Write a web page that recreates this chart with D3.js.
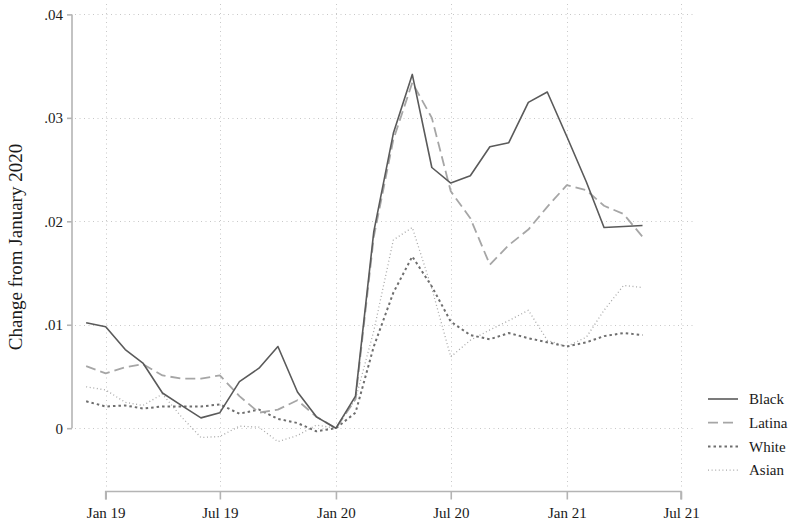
<!DOCTYPE html>
<html>
<head>
<meta charset="utf-8">
<script src="https://cdn.jsdelivr.net/npm/d3@7"></script>
<style>
  html, body { margin: 0; padding: 0; background: #fff; }
  svg { display: block; }
  text { font-family: "Liberation Serif", "Times New Roman", serif; fill: #1a1a1a; }
</style>
</head>
<body>
<svg id="chart" width="788" height="527"></svg>
<script>
// Monthly observations, Dec 2018 – May 2021
const months = [
  "2018-12","2019-01","2019-02","2019-03","2019-04","2019-05","2019-06","2019-07",
  "2019-08","2019-09","2019-10","2019-11","2019-12","2020-01","2020-02","2020-03",
  "2020-04","2020-05","2020-06","2020-07","2020-08","2020-09","2020-10","2020-11",
  "2020-12","2021-01","2021-02","2021-03","2021-04","2021-05"
];

const black = [
  0.0102, 0.0098, 0.0076, 0.0063, 0.0034, 0.0022, 0.0010, 0.0015,
  0.0045, 0.0058, 0.0079, 0.0035, 0.0011, 0.0000, 0.0031, 0.0190,
  0.0285, 0.0342, 0.0252, 0.0237, 0.0244, 0.0272, 0.0276, 0.0315,
  0.0325, 0.0282, 0.0238, 0.0194, 0.0195, 0.0196
];

const latina = [
  0.0060, 0.0053, 0.0059, 0.0062, 0.0051, 0.0048, 0.0048, 0.0051,
  0.0031, 0.0015, 0.0018, 0.0027, 0.0011, 0.0000, 0.0028, 0.0185,
  0.0279, 0.0334, 0.0300, 0.0229, 0.0203, 0.0158, 0.0177, 0.0192,
  0.0214, 0.0235, 0.0230, 0.0215, 0.0207, 0.0185
];

const white = [
  0.0026, 0.0021, 0.0022, 0.0019, 0.0021, 0.0021, 0.0021, 0.0023,
  0.0014, 0.0018, 0.0009, 0.0005, -0.0003, 0.0000, 0.0015, 0.0079,
  0.0131, 0.0166, 0.0137, 0.0103, 0.0090, 0.0086, 0.0092, 0.0087,
  0.0083, 0.0079, 0.0083, 0.0089, 0.0092, 0.0090
];

const asian = [
  0.0040, 0.0037, 0.0025, 0.0022, 0.0033, 0.0011, -0.0009, -0.0008,
  0.0002, 0.0001, -0.0013, -0.0007, 0.0003, 0.0000, 0.0028, 0.0094,
  0.0182, 0.0194, 0.0135, 0.0069, 0.0085, 0.0095, 0.0104, 0.0114,
  0.0085, 0.0079, 0.0088, 0.0114, 0.0138, 0.0136
];

const seriesNames = ["Black", "Latina", "White", "Asian"];
const yTicks = [0, 0.01, 0.02, 0.03, 0.04];
const xTicks = ["2019-01","2019-07","2020-01","2020-07","2021-01","2021-07"];
const yTitle = "Change from January 2020";

const parse = d3.timeParse("%Y-%m");
const dates = months.map(parse);

// Styles per series
const styles = {
  Black:  { stroke: "#5a5a5a", width: 1.6, dash: null },
  Latina: { stroke: "#a6a6a6", width: 1.8, dash: "10,5" },
  White:  { stroke: "#6e6e6e", width: 2.0, dash: "2.5,3" },
  Asian:  { stroke: "#a8a8a8", width: 1.3, dash: "1,2.6" }
};
const values = { Black: black, Latina: latina, White: white, Asian: asian };

const svg = d3.select("#chart");

const x = d3.scaleTime()
  .domain([parse("2019-01"), parse("2021-07")])
  .range([105.7, 681]);

const y = d3.scaleLinear()
  .domain([0, 0.04])
  .range([428.2, 14.4]);

const plotLeft = 72, plotRight = 694, plotTop = 4, plotBottom = 491.5;

// Grid
const grid = svg.append("g").attr("class", "grid")
  .attr("stroke", "#c8c8c8").attr("stroke-width", 1).attr("stroke-dasharray", "1,3.5");
grid.selectAll("line.h").data(yTicks).join("line")
  .attr("class", "h")
  .attr("x1", plotLeft + 3).attr("x2", plotRight)
  .attr("y1", d => Math.round(y(d)) + 0.5).attr("y2", d => Math.round(y(d)) + 0.5);
grid.selectAll("line.v").data(xTicks.map(parse)).join("line")
  .attr("class", "v")
  .attr("x1", d => Math.round(x(d)) + 0.5).attr("x2", d => Math.round(x(d)) + 0.5)
  .attr("y1", plotTop).attr("y2", plotBottom - 2);

// Axes
const yAxis = d3.axisLeft(y)
  .tickValues(yTicks)
  .tickSize(5)
  .tickPadding(4)
  .tickFormat(d => d === 0 ? "0" : d3.format(".2f")(d).replace(/^0/, ""));
const gy = svg.append("g").attr("transform", `translate(${plotLeft},0)`).call(yAxis);

const xAxis = d3.axisBottom(x)
  .tickValues(xTicks.map(parse))
  .tickSize(8)
  .tickPadding(8)
  .tickFormat(d3.timeFormat("%b %y"));
const gx = svg.append("g").attr("transform", `translate(0,${plotBottom})`).call(xAxis);

[gx, gy].forEach(g => {
  g.select(".domain").attr("stroke", "#b4b4b4").attr("stroke-width", 1.6);
  g.selectAll(".tick line").attr("stroke", "#b4b4b4").attr("stroke-width", 1.6);
  g.selectAll(".tick text")
    .style("font-family", '"Liberation Serif", "Times New Roman", serif')
    .style("font-size", "15px").attr("fill", "#1a1a1a");
});
// y domain path without outer ticks
gy.select(".domain").attr("d", `M0,${y(0.04)}V${y(0)}`);
gx.select(".domain").attr("d", `M${x(parse("2019-01"))},8V0H${x(parse("2021-07"))}V8`);

// Y title
svg.append("text")
  .attr("transform", "translate(22,247) rotate(-90)")
  .attr("text-anchor", "middle")
  .style("font-size", "19px")
  .text(yTitle);

// Lines
const line = d3.line()
  .x((d, i) => x(dates[i]))
  .y(d => y(d));

const drawOrder = ["Asian", "White", "Latina", "Black"];
drawOrder.forEach(name => {
  const s = styles[name];
  svg.append("path")
    .datum(values[name])
    .attr("fill", "none")
    .attr("stroke", s.stroke)
    .attr("stroke-width", s.width)
    .attr("stroke-linejoin", "round")
    .attr("stroke-dasharray", s.dash)
    .attr("d", line);
});

// Legend
const legend = svg.append("g").attr("transform", "translate(708,399)");
seriesNames.forEach((name, i) => {
  const s = styles[name];
  const g = legend.append("g").attr("transform", `translate(0,${i * 23.7})`);
  g.append("line")
    .attr("x1", 0).attr("x2", 30).attr("y1", 0).attr("y2", 0)
    .attr("stroke", s.stroke).attr("stroke-width", s.width)
    .attr("stroke-dasharray", s.dash);
  g.append("text")
    .attr("x", 41).attr("y", 0).attr("dy", "0.35em")
    .style("font-size", "15px")
    .text(name);
});
</script>
</body>
</html>
